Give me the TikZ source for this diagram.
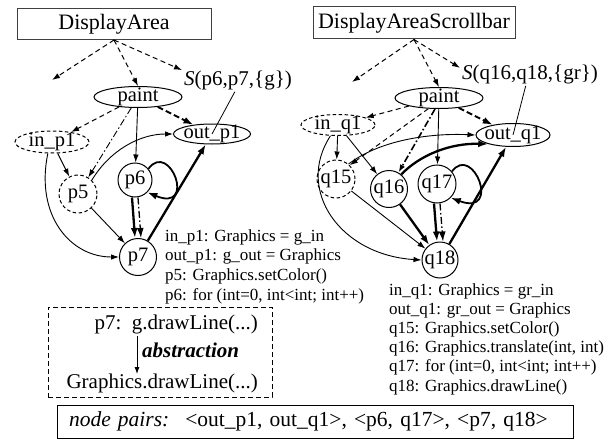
\documentclass[tikz,border=0pt]{standalone}
\usepackage{fontspec}
\setmainfont{Liberation Serif}
\usetikzlibrary{arrows.meta,shapes.geometric}
\begin{document}
\begin{tikzpicture}[x=1pt,y=-1pt,
  lblfont/.style={font=\fontsize{20.5}{22}\selectfont},
  ttl/.style={draw=black!75, line width=1pt, font=\fontsize{22}{24}\selectfont, inner sep=0pt},
  ell/.style={ellipse, draw, line width=1pt, inner xsep=-8pt, inner ysep=-4pt, lblfont},
  cir/.style={circle, draw, line width=1pt, inner sep=-1pt, lblfont},
  dshape/.style={dash pattern=on 3.5pt off 2.5pt},
  tipA/.style={-{Latex[length=8pt,width=5.5pt]}},
  tipB/.style={-{Latex[length=10pt,width=7pt]}},
  tedge/.style={line width=0.9pt, tipA},
  bedge/.style={line width=2.3pt, tipB},
  dedge/.style={line width=1pt, dash pattern=on 5pt off 3.5pt, tipA},
  ddedge/.style={line width=2pt, dash pattern=on 6pt off 3pt, tipB},
  dotdash/.style={dash pattern=on 7pt off 2.5pt on 1.5pt off 2.5pt},
  codefont/.style={font=\fontsize{17}{19}\selectfont, inner sep=0pt, anchor=base west},
  slbl/.style={font=\fontsize{21}{23}\selectfont, inner sep=2pt},
  bigfont/.style={font=\fontsize{21}{23}\selectfont, inner sep=0pt},
]
\useasboundingbox (0,0) rectangle (609,441);

% titles
\node[ttl, minimum width=194pt, minimum height=31pt] (da) at (114,24) {DisplayArea};
\node[ttl, minimum width=202pt, minimum height=32pt] (das) at (414,23) {DisplayAreaScrollbar};
\node[slbl] (sl) at (238,80) {\textit{S}(p6,p7,\{g\})};
\node[slbl] (sr) at (530,74) {\textit{S}(q16,q18,\{gr\})};

% left graph nodes
\node[ell, minimum width=88pt, minimum height=21pt] (pa) at (138,97) {paint};
\node[ell, dshape, minimum width=74pt, minimum height=22pt] (ip) at (52,142) {in\_p1};
\node[ell, minimum width=77pt, minimum height=20pt] (op) at (212,134) {out\_p1};
\node[cir, dshape, minimum size=38pt] (p5) at (78,194) {p5};
\node[cir, minimum size=34pt] (p6) at (135,180) {p6};
\node[cir, minimum size=37pt] (p7) at (138,257) {p7};

% right graph nodes
\node[ell, minimum width=88pt, minimum height=21pt] (pb) at (439,98) {paint};
\node[ell, dshape, minimum width=74pt, minimum height=21pt] (iq) at (338,125) {in\_q1};
\node[ell, minimum width=74pt, minimum height=23pt] (oq) at (513,135) {out\_q1};
\node[cir, dshape, minimum size=38pt] (q15) at (336,179) {q15};
\node[cir, minimum size=37pt] (q16) at (389,189) {q16};
\node[cir, minimum size=38pt] (q17) at (437,184) {q17};
\node[cir, minimum size=36pt] (q18) at (440,260) {q18};

% top dashed arrows
\coordinate (fl) at (52,80);
\coordinate (fr) at (352,82);
\draw[dedge] (da.south) -- (fl);
\draw[dedge] (da.south) -- (pa.north);
\draw[dedge] (da.south) -- (sl.170);
\draw[dedge] (das.south) -- (fr);
\draw[dedge] (das.south) -- (pb.north);
\draw[dedge] (das.south) -- (sr.175);

% left graph edges
\draw[dedge] (pa) -- (ip);
\draw[tedge, dotdash] (pa) -- (p5);
\draw[tedge] (pa) -- (p6);
\draw[ddedge] (pa) -- (op);
\draw[tedge] (ip) -- (p5);
\draw[tedge] (ip.250) .. controls (35,215) and (70,257) .. (p7.west);
\draw[tedge] (p5.45) .. controls (110,150) and (140,134) .. (op.west);
\draw[tedge] (p5) -- (p7);
\draw[bedge] ([xshift=-3pt]p6.south) -- ([xshift=-3pt]p7.north);
\draw[tipB, line width=1.3pt, dotdash] ([xshift=3pt]p6.south) -- ([xshift=3pt]p7.north);
\draw[bedge] (p7) -- (op);
\draw[line width=1.8pt, tipB] (p6.40) .. controls (170,140) and (197,213) .. (p6.-45);
\draw[line width=0.8pt] (sl.255) -- (op.center);

% right graph edges
\draw[dedge] (pb) -- (iq);
\draw[dedge] (pb.225) -- (q15.45);
\draw[tedge, dotdash, line width=1.6pt] (pb.250) -- (q16.60);
\draw[tedge] (pb) -- (q17);
\draw[ddedge] (pb) -- (oq);
\draw[tedge] (iq) -- (q15);
\draw[tedge] (iq) -- (q16);
\draw[tedge] (iq.235) .. controls (295,190) and (340,255) .. (q18.west);
\draw[tedge] (q15.50) .. controls (380,140) and (430,133) .. (oq.west);
\draw[tedge] (q15) -- (q18);
\draw[bedge] (q16.50) .. controls (420,155) and (450,143) .. (oq.200);
\draw[bedge] (q16) -- (q18);
\draw[bedge] ([xshift=-3pt]q17.south) -- ([xshift=-3pt]q18.north);
\draw[tipB, line width=1.3pt, dotdash] ([xshift=3pt]q17.south) -- ([xshift=3pt]q18.north);
\draw[bedge] (q18) -- (oq);
\draw[line width=1.8pt, tipB] (q17.40) .. controls (473,143) and (502,217) .. (q17.-45);
\draw[line width=0.8pt] (sr.250) -- (oq.center);

% code lines
\node[codefont] (c1) at (165,241) {in\_p1: Graphics = g\_in};
\node[codefont] (c2) at (165,260.7) {out\_p1: g\_out = Graphics};
\node[codefont] (c3) at (165,280.3) {p5: Graphics.setColor()};
\node[codefont] (c4) at (165,300) {p6: for (int=0, int<int; int++)};

\node[codefont] (d1) at (389,295) {in\_q1: Graphics = gr\_in};
\node[codefont] (d2) at (389,314.2) {out\_q1: gr\_out = Graphics};
\node[codefont] (d3) at (389,333.4) {q15: Graphics.setColor()};
\node[codefont] (d4) at (389,352.6) {q16: Graphics.translate(int, int)};
\node[codefont] (d5) at (389,371.8) {q17: for (int=0, int<int; int++)};
\node[codefont] (d6) at (389,391) {q18: Graphics.drawLine()};

% abstraction box
\node[draw, line width=1pt, dash pattern=on 5pt off 3pt, minimum width=224pt, minimum height=90pt, inner sep=0pt] (abx) at (160,352) {};
\node[bigfont, anchor=base east] (a1) at (258,329) {p7:\ \ g.drawLine(...)};
\node[bigfont, anchor=base east] (a2) at (258,388) {Graphics.drawLine(...)};
\coordinate (ab1) at (137,336);
\coordinate (ab2) at (137,374);
\draw[line width=0.9pt, -{Latex[length=7pt,width=5pt]}] (ab1) -- (ab2);
\node[bigfont, font=\fontsize{21}{23}\selectfont\bfseries\itshape, anchor=base west] (abs) at (142,357) {abstraction};

% node pairs
\node[draw, line width=1pt, minimum height=33pt, text width=492pt, align=left, inner xsep=12pt, font=\fontsize{21.5}{23}\selectfont] (np) at (315,421.5) {\textit{node pairs:}\hspace{16pt}<out\_p1, out\_q1>, <p6, q17>, <p7, q18>};
\end{tikzpicture}
\end{document}
